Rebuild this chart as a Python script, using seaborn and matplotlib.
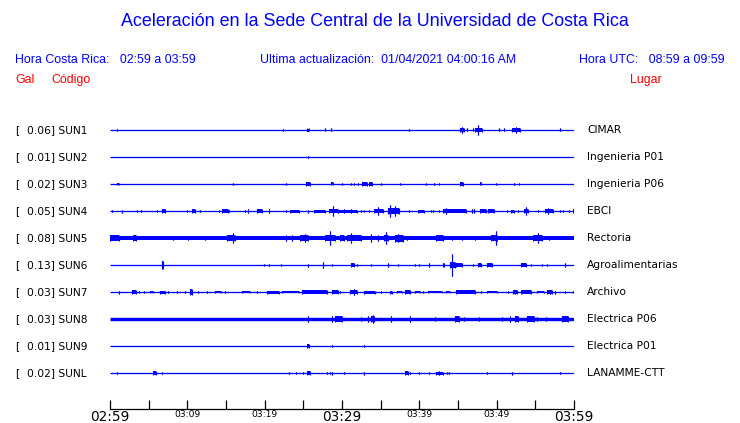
import matplotlib
matplotlib.use("Agg")
from matplotlib import pyplot as plt
import seaborn as sns

# station codes, peak values (Gal) and places
codes = ["SUN1", "SUN2", "SUN3", "SUN4", "SUN5", "SUN6", "SUN7", "SUN8", "SUN9", "SUNL"]
gal = [0.06, 0.01, 0.02, 0.05, 0.08, 0.13, 0.03, 0.03, 0.01, 0.02]
places = ["CIMAR", "Ingenieria P01", "Ingenieria P06", "EBCI", "Rectoria",
          "Agroalimentarias", "Archivo", "Electrica P06", "Electrica P01", "LANAMME-CTT"]

# baseline thickness of each trace (pixels)
base_px = [1.3, 1.3, 1.3, 1.3, 4.0, 1.3, 1.3, 3.4, 1.3, 1.3]

# bursts: (start minute, end minute, half amplitude px)
sun1 = [(0.95, 0.95, 1.3), (22.4, 22.4, 1.0), (25.5, 25.7, 1.5), (27.8, 27.8, 1.5),
        (28.6, 28.6, 1.5), (38.7, 38.7, 1.3), (45.2, 45.8, 2.0), (45.5, 45.5, 3.3),
        (46.2, 46.2, 1.5), (46.9, 46.9, 1.5), (47.2, 48.1, 2.2), (47.6, 47.6, 5.0),
        (50.3, 50.3, 1.5), (50.9, 50.9, 1.5), (52.0, 53.0, 2.0), (52.5, 52.5, 3.3),
        (58.2, 58.2, 1.5)]
sun2 = [(25.6, 25.6, 1.0)]
sun3 = [(0.95, 1.1, 1.3), (15.9, 15.9, 1.3), (22.8, 22.8, 1.0), (25.4, 25.8, 2.0),
        (28.6, 28.9, 1.5), (30.0, 30.0, 1.3), (31.1, 31.1, 1.3), (31.5, 31.5, 1.3),
        (32.1, 32.1, 1.0), (32.6, 33.2, 1.7), (33.5, 33.9, 1.7), (35.1, 35.1, 1.3),
        (37.5, 37.5, 1.3), (40.8, 40.8, 1.3), (41.9, 41.9, 1.3), (42.5, 42.5, 1.0),
        (45.3, 45.6, 1.7), (47.9, 48.0, 1.5), (49.95, 49.95, 1.3), (52.2, 52.2, 1.0),
        (52.9, 52.9, 1.0)]
sun4 = [(0.3, 0.3, 1.3), (1.5, 1.5, 1.5), (3.5, 3.5, 1.3), (4.0, 4.0, 1.0),
        (6.1, 6.1, 1.0), (6.7, 7.1, 1.7), (10.0, 10.0, 1.3), (10.6, 11.0, 2.0),
        (11.6, 11.6, 1.3), (14.1, 14.1, 1.3), (14.5, 15.2, 2.0), (15.4, 15.4, 1.3),
        (17.4, 17.4, 1.0), (17.9, 17.9, 1.7), (19.0, 19.7, 2.0), (20.6, 20.6, 1.7),
        (22.8, 22.8, 1.3), (23.3, 24.5, 1.5), (25.6, 25.6, 1.5), (26.4, 27.8, 1.5),
        (28.3, 29.5, 1.8), (28.9, 28.9, 5.3), (29.5, 31.9, 1.5), (30.2, 30.2, 2.3),
        (31.2, 31.2, 2.3), (32.5, 32.5, 1.3), (32.8, 32.8, 1.3), (33.5, 33.5, 1.0),
        (34.2, 35.3, 2.3), (34.7, 34.7, 4.0), (35.9, 37.4, 2.7), (36.2, 36.2, 5.7),
        (36.9, 36.9, 5.0), (38.7, 38.7, 1.3), (39.8, 40.6, 1.5), (41.5, 41.5, 1.3),
        (41.8, 41.8, 1.3), (42.6, 42.6, 1.3), (43.1, 46.0, 1.7), (43.5, 43.5, 2.7),
        (46.8, 46.8, 1.7), (47.1, 47.1, 1.7), (47.9, 48.6, 2.0), (48.9, 49.7, 2.3),
        (51.3, 51.3, 1.3), (51.9, 52.2, 1.5), (52.8, 52.8, 1.3), (53.5, 54.1, 2.0),
        (53.8, 53.8, 4.0), (55.4, 55.4, 1.3), (56.3, 57.3, 1.8), (56.6, 56.6, 3.0),
        (58.2, 58.2, 1.3), (58.6, 58.6, 1.3), (59.3, 59.3, 1.3), (59.9, 60.0, 1.7)]
sun5 = [(0.0, 1.1, 2.7), (3.0, 3.3, 2.7), (8.1, 8.1, 2.3), (10.1, 10.1, 2.3),
        (12.3, 12.3, 2.3), (15.1, 16.2, 3.0), (15.9, 15.9, 5.3), (22.8, 22.8, 2.7),
        (23.5, 23.5, 2.7), (24.6, 25.6, 2.8), (25.2, 25.2, 4.0), (27.8, 29.1, 3.0),
        (28.5, 28.5, 7.3), (29.7, 30.3, 3.0), (30.7, 32.5, 3.0), (31.2, 31.2, 5.0),
        (33.8, 33.8, 4.0), (34.7, 34.7, 3.0), (35.4, 36.0, 3.2), (35.7, 35.7, 5.7),
        (36.9, 37.9, 3.5), (37.3, 37.3, 4.3), (38.4, 38.4, 2.3), (42.2, 43.1, 3.0),
        (44.2, 44.2, 2.3), (45.5, 45.5, 2.3), (47.2, 47.2, 2.3), (49.3, 50.0, 3.0),
        (49.9, 49.9, 7.3), (54.7, 55.8, 3.0), (55.3, 55.3, 5.3), (56.8, 56.8, 2.3)]
sun6 = [(6.7, 6.9, 3.7), (19.9, 19.9, 1.3), (20.6, 20.6, 1.3), (22.1, 22.1, 1.3),
        (25.6, 25.6, 1.5), (27.5, 27.5, 2.7), (28.7, 28.7, 1.0), (31.2, 31.5, 1.7),
        (31.9, 31.9, 1.3), (33.8, 33.8, 1.3), (35.9, 35.9, 1.7), (37.2, 37.2, 1.3),
        (39.4, 39.4, 1.3), (39.9, 39.9, 1.3), (41.3, 41.3, 1.7), (43.0, 43.2, 1.7),
        (44.0, 44.6, 3.3), (44.2, 44.2, 11.3), (44.8, 45.5, 1.8), (47.0, 47.0, 1.0),
        (47.6, 48.0, 2.0), (48.8, 49.4, 1.7), (53.2, 53.8, 1.7), (54.5, 54.5, 1.3),
        (55.8, 55.8, 1.3), (56.5, 56.5, 1.0), (58.8, 58.8, 1.7)]
sun7 = [(1.2, 1.2, 1.5), (2.8, 3.4, 2.0), (3.8, 3.8, 1.0), (4.4, 4.4, 1.0),
        (5.2, 5.6, 1.3), (6.5, 7.1, 1.5), (7.5, 7.5, 1.0), (8.6, 8.6, 1.0),
        (9.7, 9.7, 1.0), (10.3, 10.6, 2.7), (11.4, 11.4, 1.0), (12.6, 12.6, 1.0),
        (13.6, 14.4, 1.3), (14.9, 14.9, 1.0), (17.1, 18.1, 1.0), (19.0, 19.0, 1.3),
        (20.3, 21.8, 1.5), (22.2, 24.4, 1.3), (24.8, 28.0, 1.7), (28.7, 29.5, 1.7),
        (29.7, 29.7, 1.0), (31.0, 31.9, 1.7), (31.5, 31.5, 2.7), (32.8, 34.3, 1.5),
        (35.1, 35.1, 1.3), (36.2, 36.5, 1.5), (37.1, 37.7, 1.3), (38.1, 38.8, 1.7),
        (39.4, 40.1, 1.3), (40.5, 40.5, 1.0), (41.1, 42.9, 1.3), (43.5, 44.0, 1.3),
        (44.8, 47.2, 1.7), (48.0, 48.0, 1.3), (48.7, 50.0, 1.3), (51.5, 51.5, 1.0),
        (52.1, 52.6, 1.7), (52.4, 52.4, 2.3), (53.2, 54.5, 1.7), (55.2, 56.1, 1.0),
        (56.5, 57.1, 1.7), (56.9, 56.9, 2.3), (57.6, 57.6, 1.5), (58.8, 58.8, 1.0),
        (59.9, 59.9, 1.3)]
sun8 = [(25.6, 25.6, 2.7), (28.7, 28.7, 2.7), (29.1, 30.0, 3.0), (32.5, 32.5, 2.3),
        (33.4, 33.4, 2.7), (33.8, 34.2, 3.3), (34.0, 34.0, 4.0), (36.3, 36.3, 2.7),
        (38.8, 38.8, 2.7), (42.0, 42.0, 2.3), (44.6, 45.1, 2.7), (45.8, 45.8, 2.3),
        (47.7, 47.7, 2.0), (50.7, 50.7, 2.3), (51.7, 51.7, 2.7), (52.4, 52.8, 2.7),
        (53.9, 54.8, 3.0), (55.2, 55.2, 2.3), (56.4, 56.4, 2.3), (58.5, 59.2, 2.7)]
sun9 = [(25.5, 25.7, 1.7), (28.7, 28.7, 1.0), (32.9, 32.9, 1.0)]
sunl = [(0.9, 0.9, 1.0), (5.6, 6.0, 1.7), (6.7, 6.7, 1.0), (23.1, 23.1, 1.0),
        (24.1, 24.1, 1.0), (25.0, 25.0, 1.3), (25.5, 25.8, 1.7), (28.1, 28.1, 1.3),
        (28.4, 28.4, 1.3), (28.7, 28.7, 1.5), (30.2, 30.2, 1.0), (32.8, 32.8, 1.5),
        (38.1, 38.5, 1.7), (38.8, 38.8, 1.3), (39.9, 39.9, 1.3), (41.2, 41.2, 1.0),
        (42.2, 43.1, 1.5), (42.6, 42.6, 2.3), (43.6, 43.6, 1.3), (43.9, 43.9, 1.3),
        (48.8, 48.8, 1.3), (52.0, 52.0, 1.5), (58.2, 58.2, 1.3)]
bursts = [sun1, sun2, sun3, sun4, sun5, sun6, sun7, sun8, sun9, sunl]

tick_minutes = [0, 10, 20, 30, 40, 50, 60]
tick_labels = ["02:59", "03:09", "03:19", "03:29", "03:39", "03:49", "03:59"]
minor_minutes = [5, 15, 25, 35, 45, 55]

BLUE = "#0000ff"
RED = "#ff0000"
W, H = 740, 423

sns.set_style("white")
plt.rcParams["font.family"] = ["DejaVu Sans"]
plt.rcParams["text.color"] = "black"
plt.rcParams["xtick.color"] = "black"

fig = plt.figure(figsize=(W / 100, H / 100), dpi=100)
# axes box in pixel units: x 110..574, y 115..409 (from the top)
ax = fig.add_axes([110 / W, (H - 409) / H, 464 / W, (409 - 115) / H])
ax.set_xlim(0, 60)
ax.set_ylim(409, 115)


def px(x, y):
    return x / W, 1 - y / H


for i, code in enumerate(codes):
    y0 = 130 + 27 * i
    ax.hlines(y0, 0, 60, color=BLUE, lw=base_px[i] * 0.72)
    for t0, t1, a in bursts[i]:
        if t1 > t0:
            ax.fill_between([t0, t1], y0 - a, y0 + a, color=BLUE, lw=0)
        ax.vlines([t0, t1], y0 - a, y0 + a, color=BLUE, lw=0.8)
    fig.text(*px(15, y0), "[", fontsize=7.7, va="center", ha="left", color="black")
    fig.text(*px(27, y0), f"{gal[i]:.2f}] {code}", fontsize=7.7, va="center",
             ha="left", color="black")
    fig.text(*px(587, y0), places[i], fontsize=7.7, va="center", ha="left", color="black")

sns.despine(ax=ax, left=True, top=True, right=True)
ax.spines["bottom"].set_color("black")
ax.spines["bottom"].set_linewidth(0.9)
ax.set_yticks([])
ax.set_xticks(tick_minutes)
ax.set_xticklabels(tick_labels)
ax.set_xticks(minor_minutes, minor=True)
ax.tick_params(axis="x", which="both", direction="in", length=6.5, width=0.9,
               color="black", labelcolor="black", pad=0.8, bottom=True)
for lab in ax.get_xticklabels():
    if lab.get_text() in ("02:59", "03:29", "03:59"):
        lab.set_fontsize(9.8)
    else:
        lab.set_fontsize(6.6)

# header
hf = "Liberation Sans"
fig.text(*px(375, 22), "Aceleración en la Sede Central de la Universidad de Costa Rica",
         family=hf, fontsize=12.9, color=BLUE, ha="center", va="center")
fig.text(*px(15, 60), "Hora Costa Rica:   02:59 a 03:59", family=hf, fontsize=8.9,
         color=BLUE, ha="left", va="center")
fig.text(*px(260, 60), "Ultima actualización:  01/04/2021 04:00:16 AM", family=hf,
         fontsize=8.9, color=BLUE, ha="left", va="center")
fig.text(*px(725, 60), "Hora UTC:   08:59 a 09:59", family=hf, fontsize=8.9,
         color=BLUE, ha="right", va="center")
fig.text(*px(15, 80), "Gal", family=hf, fontsize=8.9, color=RED, ha="left", va="center")
fig.text(*px(51, 80), "Código", family=hf, fontsize=8.9, color=RED, ha="left", va="center")
fig.text(*px(662, 80), "Lugar", family=hf, fontsize=8.9, color=RED, ha="right", va="center")

fig.savefig("out.png", dpi=100, facecolor="white")
